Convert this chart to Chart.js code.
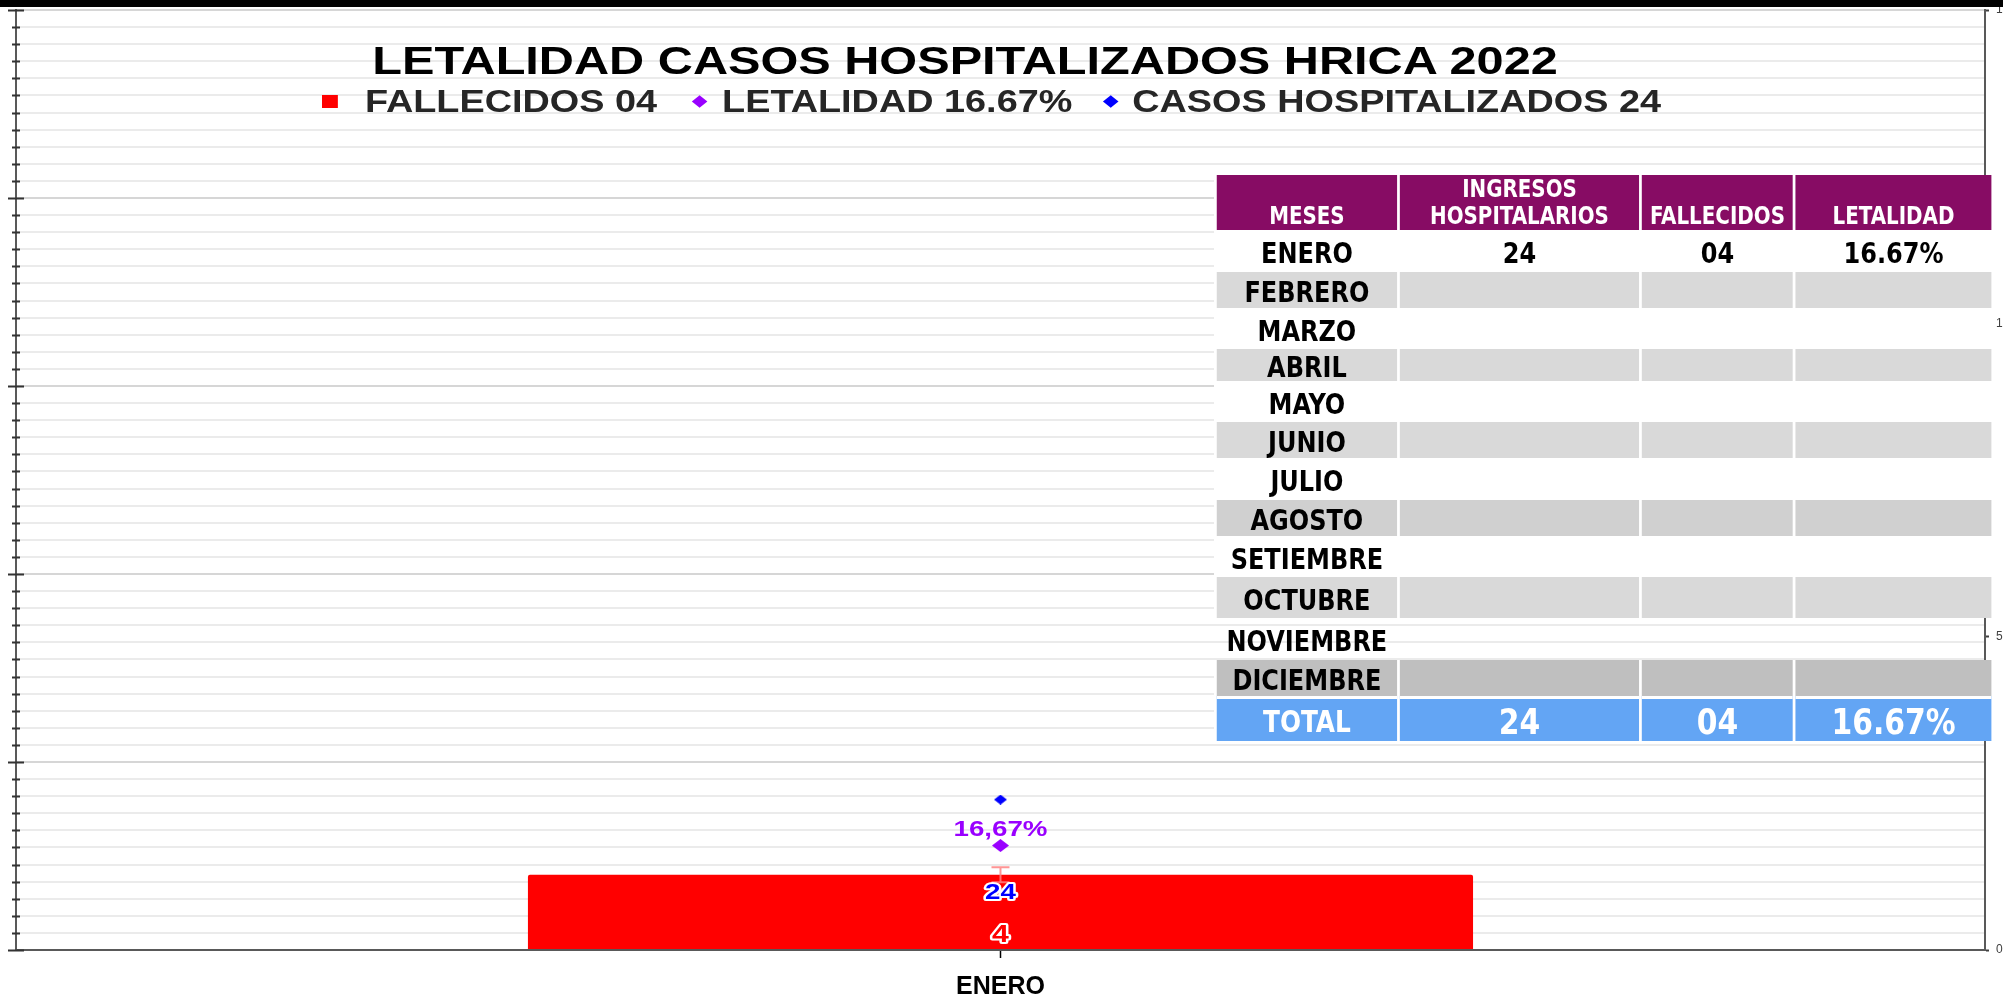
<!DOCTYPE html>
<html>
<head>
<meta charset="utf-8">
<script src="https://cdn.jsdelivr.net/npm/chart.js"></script>
<style>
  html, body { margin: 0; padding: 0; background: #fff; overflow: hidden; width: 2003px; height: 996px; }
  #topbar { position: absolute; left: 0; top: 0; width: 2003px; height: 7px; background: #000; z-index: 5; }
  #chart { position: absolute; left: 0; top: 0; }
  #title { position: absolute; left: 965px; top: 42px; font: bold 38px "Liberation Sans", Arial, sans-serif; line-height: 1;
           color: #000; white-space: nowrap; transform: translateX(-50%) scaleX(1.28); z-index: 3; }
  #legend { position: absolute; left: 322px; top: 86px; display: flex; align-items: center; transform-origin: 0 50%;
            transform: scaleX(1.22); font: bold 31px "Liberation Sans", Arial, sans-serif; line-height: 1; color: #262626;
            white-space: nowrap; z-index: 3; }
  #legend .sq { width: 12.5px; height: 13px; }
  #legend .dm { width: 9px; height: 9px; transform: rotate(45deg); }
  #tbl { position: absolute; left: 1214px; top: 175px; border-collapse: separate; table-layout: fixed;
         transform-origin: 0 0; z-index: 2;
         background: linear-gradient(to bottom, #fff 0, #fff 443px, transparent 443px, transparent 485px, #fff 485px); }
  #tbl th, #tbl td { padding: 0; text-align: center; font-family: "DejaVu Sans Condensed", "DejaVu Sans", sans-serif;
                     font-weight: bold; white-space: nowrap; overflow: hidden; }
  #tbl th { background: #870c64; color: #fff; font-size: 24px; line-height: 27px; vertical-align: bottom; height: 55px; }
  #tbl td { font-size: 29px; line-height: 28px; vertical-align: middle; padding-top: 4px; color: #000; }
  #tbl tr.total td { background: #63a5f4; color: #fff; font-size: 36px; border-top: 3px solid #fff; }
  #tbl tr.total td:first-child { font-size: 30px; }
</style>
</head>
<body>
<div id="topbar"></div>
<canvas id="chart" width="2023" height="1017"></canvas>
<div id="title">LETALIDAD CASOS HOSPITALIZADOS HRICA 2022</div>
<div id="legend"></div>
<table id="tbl"></table>
<script>
// chart data
const categories = ['ENERO'];
const fallecidos = [4];
const fallecidosError = [0.4];
const letalidad = [16.67];
const casosHospitalizados = [24];
const seriesLabels = ['FALLECIDOS 04', 'LETALIDAD 16.67%', 'CASOS HOSPITALIZADOS 24'];

// table data
const tableHeaders = [['MESES'], ['INGRESOS', 'HOSPITALARIOS'], ['FALLECIDOS'], ['LETALIDAD']];
const tableMonths = ['ENERO', 'FEBRERO', 'MARZO', 'ABRIL', 'MAYO', 'JUNIO', 'JULIO', 'AGOSTO',
  'SETIEMBRE', 'OCTUBRE', 'NOVIEMBRE', 'DICIEMBRE'];
const tableIngresos = ['24', '', '', '', '', '', '', '', '', '', '', ''];
const tableFallecidos = ['04', '', '', '', '', '', '', '', '', '', '', ''];
const tableLetalidad = ['16.67%', '', '', '', '', '', '', '', '', '', '', ''];
const tableTotal = ['TOTAL', '24', '04', '16.67%'];

// table layout (widths in page px, the table is squeezed horizontally)
const TABLE_SX = 0.92;
const CELL_GAP = 3;
const colWidths = [180, 239, 151, 195];
const rowHeights = [42, 36, 41, 32, 41, 36, 42, 36, 41, 41, 42, 36];
const rowFills = ['#fff', '#d9d9d9', '#fff', '#d9d9d9', '#fff', '#d9d9d9', '#fff', '#d0d0d0',
  '#fff', '#d9d9d9', 'transparent', '#bfbfbf'];

const RED = '#ff0000', PURPLE = '#9900ff', BLUE = '#0000ff';

function buildTable() {
  const tbl = document.getElementById('tbl');
  const cols = colWidths.map(w => w / TABLE_SX);
  const gap = CELL_GAP / TABLE_SX;
  tbl.style.transform = `scaleX(${TABLE_SX})`;
  tbl.style.borderSpacing = `${gap.toFixed(2)}px 0`;
  tbl.style.width = (cols.reduce((a, b) => a + b, 0) + gap * (cols.length + 1)).toFixed(1) + 'px';
  let html = '<colgroup>' + cols.map(w => `<col style="width:${w.toFixed(1)}px">`).join('') + '</colgroup>';
  html += '<tr>' + tableHeaders.map(lines => `<th>${lines.join('<br>')}</th>`).join('') + '</tr>';
  tableMonths.forEach((m, i) => {
    const bg = rowFills[i];
    const cells = [m, tableIngresos[i], tableFallecidos[i], tableLetalidad[i]];
    html += `<tr style="height:${rowHeights[i]}px">` +
      cells.map(v => `<td style="background:${bg}">${v}</td>`).join('') + '</tr>';
  });
  html += '<tr class="total" style="height:45px">' + tableTotal.map(v => `<td>${v}</td>`).join('') + '</tr>';
  tbl.innerHTML = html;
}

function buildLegend() {
  const el = document.getElementById('legend');
  const markers = [
    `<div class="sq" style="background:${RED}"></div>`,
    `<div class="dm" style="background:${PURPLE}"></div>`,
    `<div class="dm" style="background:${BLUE}"></div>`
  ];
  // gap before marker / between marker and text (unstretched px)
  const gaps = [[0, 22.7], [30, 14.3], [27.4, 12.7]];
  el.innerHTML = seriesLabels.map((lab, i) =>
    `<div style="margin-left:${gaps[i][0]}px">${markers[i]}</div><span style="margin-left:${gaps[i][1]}px">${lab}</span>`
  ).join('');
}

// wide, flat diamond used as point marker
function diamond(color, w, h) {
  const c = document.createElement('canvas');
  c.width = w; c.height = h;
  const g = c.getContext('2d');
  g.fillStyle = color;
  g.beginPath();
  g.moveTo(w / 2, 0); g.lineTo(w, h / 2); g.lineTo(w / 2, h); g.lineTo(0, h / 2);
  g.closePath();
  g.fill();
  return c;
}

function drawText(ctx, text, x, y, font, fill, stroke) {
  ctx.save();
  ctx.translate(x, y);
  ctx.scale(1.26, 1);
  ctx.font = font;
  ctx.textAlign = 'center';
  ctx.textBaseline = 'middle';
  if (stroke) {
    ctx.lineWidth = 4;
    ctx.lineJoin = 'round';
    ctx.strokeStyle = stroke;
    ctx.strokeText(text, 0, 0);
  }
  ctx.fillStyle = fill;
  ctx.fillText(text, 0, 0);
  ctx.restore();
}

// tick marks crossing the left axis, long ones every 11 steps
const crossTicksPlugin = {
  id: 'crossTicks',
  afterDraw(chart) {
    const { ctx } = chart;
    const scale = chart.scales.y;
    const x = chart.chartArea.left;
    ctx.save();
    ctx.strokeStyle = '#333';
    ctx.lineWidth = 2;
    ctx.beginPath();
    scale.ticks.forEach((t, i) => {
      const y = Math.round(scale.getPixelForTick(i)) + 0.5;
      const len = i % 11 === 0 ? 8 : 4;
      ctx.moveTo(x - len, y); ctx.lineTo(x + len, y);
    });
    ctx.stroke();
    ctx.restore();
  }
};

const errorBarPlugin = {
  id: 'errorBars',
  afterDatasetsDraw(chart) {
    const { ctx } = chart;
    const yScale = chart.scales.y;
    const meta = chart.getDatasetMeta(0);
    meta.data.forEach((bar, i) => {
      const v = fallecidos[i], e = fallecidosError[i];
      const yTop = yScale.getPixelForValue(v + e);
      const yBot = yScale.getPixelForValue(v - e);
      ctx.save();
      ctx.strokeStyle = 'rgba(255,130,130,0.85)';
      ctx.lineWidth = 2;
      ctx.beginPath();
      ctx.moveTo(bar.x, yTop); ctx.lineTo(bar.x, yBot);
      ctx.moveTo(bar.x - 9, yTop); ctx.lineTo(bar.x + 9, yTop);
      ctx.moveTo(bar.x - 9, yBot); ctx.lineTo(bar.x + 9, yBot);
      ctx.stroke();
      ctx.restore();
    });
  }
};

const labelPlugin = {
  id: 'valueLabels',
  afterDatasetsDraw(chart) {
    const { ctx } = chart;
    const bars = chart.getDatasetMeta(0).data;
    const letPts = chart.getDatasetMeta(1).data;
    bars.forEach((bar, i) => {
      drawText(ctx, String(casosHospitalizados[i]), bar.x, bar.y + 18,
        'bold 22px "Liberation Sans", Arial, sans-serif', BLUE, '#fff');
      drawText(ctx, String(fallecidos[i]), bar.x, bar.base - 14,
        'bold 24px "Liberation Sans", Arial, sans-serif', RED, '#fff');
    });
    letPts.forEach((pt, i) => {
      drawText(ctx, letalidad[i].toFixed(2).replace('.', ',') + '%', pt.x, pt.y - 16,
        'bold 22px "Liberation Sans", Arial, sans-serif', PURPLE, null);
    });
  }
};

buildTable();
buildLegend();

new Chart(document.getElementById('chart'), {
  data: {
    labels: categories,
    datasets: [
      {
        type: 'bar', label: seriesLabels[0], data: fallecidos, yAxisID: 'y',
        backgroundColor: RED, borderRadius: 2, barPercentage: 0.6, categoryPercentage: 0.8, order: 2
      },
      {
        type: 'line', label: seriesLabels[1], data: letalidad, yAxisID: 'y2', showLine: false,
        pointStyle: diamond(PURPLE, 17, 13), pointRadius: 7, backgroundColor: PURPLE, order: 1
      },
      {
        type: 'line', label: seriesLabels[2], data: casosHospitalizados, yAxisID: 'y2', showLine: false,
        pointStyle: diamond(BLUE, 13, 10), pointRadius: 5, backgroundColor: BLUE, order: 1
      }
    ]
  },
  options: {
    responsive: false,
    animation: false,
    layout: { padding: { left: 16, top: 10, right: 0, bottom: 0 } },
    plugins: { legend: { display: false }, tooltip: { enabled: false }, title: { display: false } },
    scales: {
      x: {
        grid: { drawOnChartArea: false, offset: false, tickLength: 8, tickColor: '#000', tickWidth: 1.5 },
        border: { color: '#595959', width: 2 },
        ticks: { color: '#000', padding: 17, font: { family: '"Liberation Sans", Arial, sans-serif', size: 25, weight: 'bold', lineHeight: 1 } }
      },
      y: {
        position: 'left', min: 0, max: 50,
        ticks: { display: false, stepSize: 50 / 55, maxTicksLimit: 100 },
        grid: {
          color: ctx => (ctx.index % 11 === 0 ? '#d6d6d6' : '#ebebeb'),
          lineWidth: 2, drawTicks: false
        },
        border: { color: '#595959', width: 2 }
      },
      y2: {
        position: 'right', min: 0, max: 150,
        ticks: { stepSize: 50, color: '#404040', padding: 7, font: { family: '"Liberation Sans", Arial, sans-serif', size: 12, lineHeight: 0.3 } },
        grid: { drawOnChartArea: false, tickLength: 4, tickColor: '#404040', tickWidth: 2 },
        border: { color: '#595959', width: 2 }
      }
    }
  },
  plugins: [crossTicksPlugin, errorBarPlugin, labelPlugin]
});
</script>
</body>
</html>
